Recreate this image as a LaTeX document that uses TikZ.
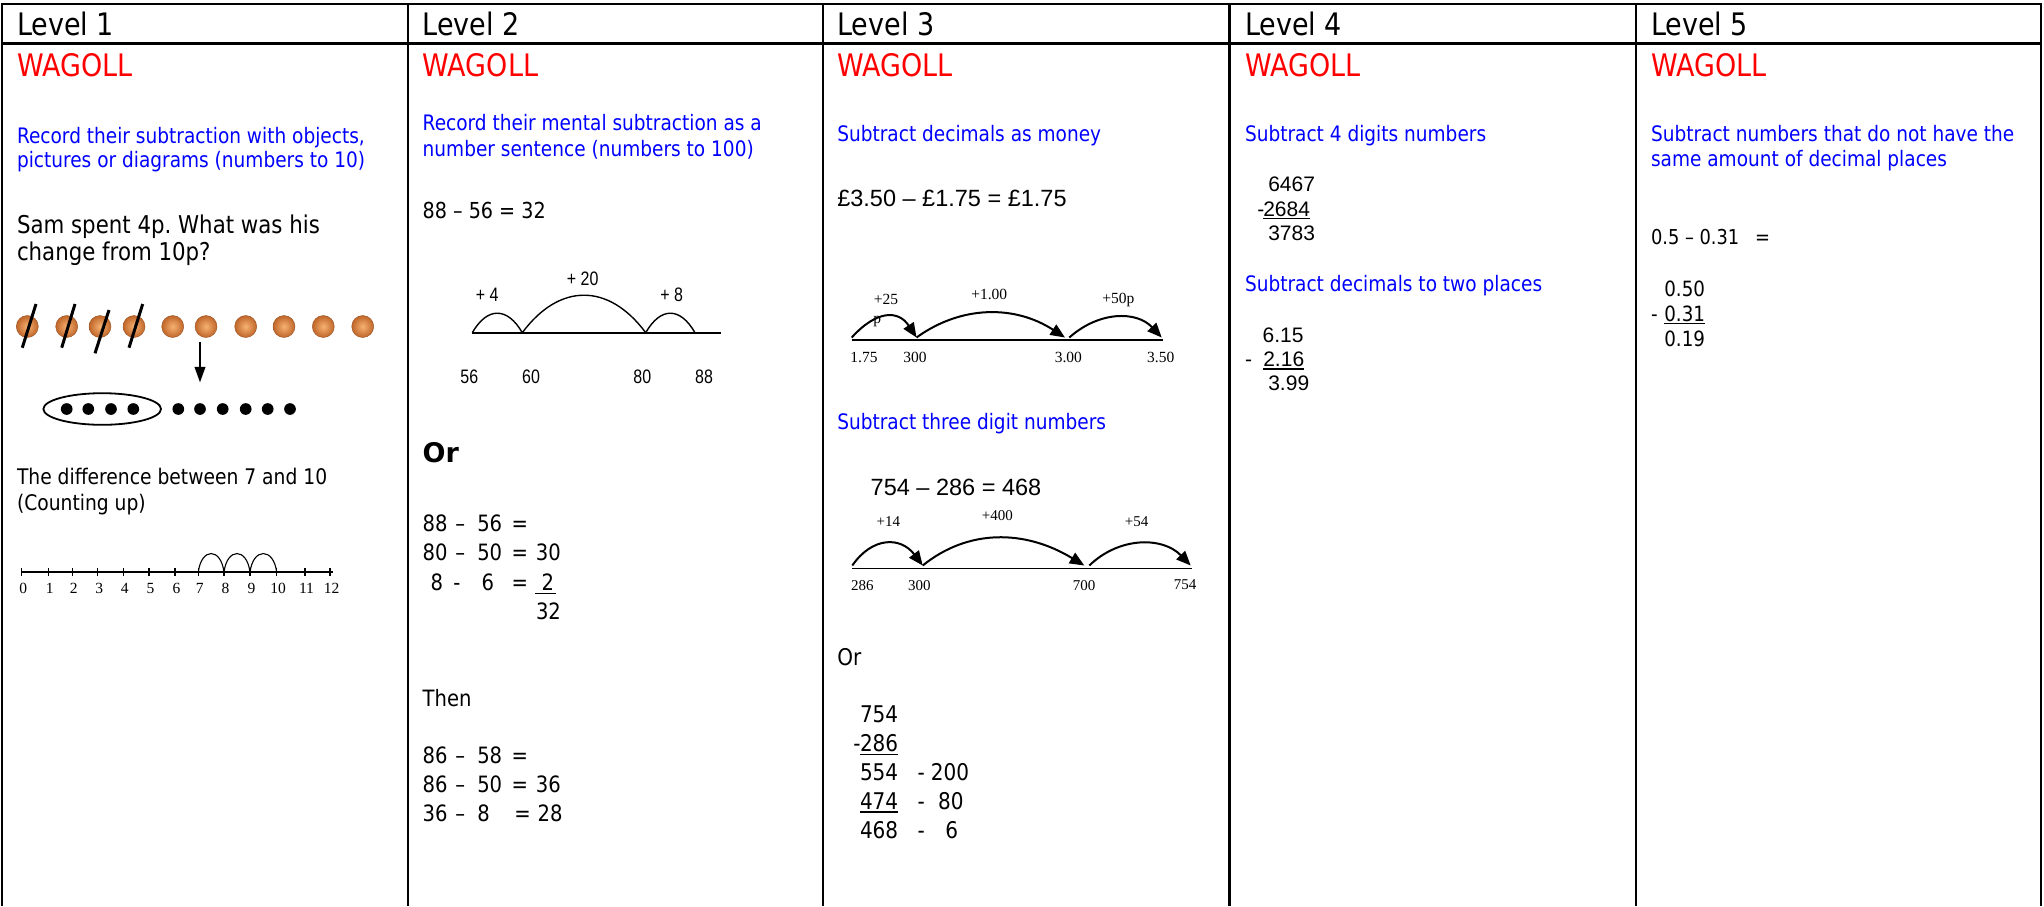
\documentclass[tikz,border=0pt]{standalone}
\usepackage{fontspec}
\setmainfont[FakeStretch=0.87]{DejaVu Sans}
\newfontfamily\plainsans{DejaVu Sans}
\newfontfamily\arialf{Liberation Sans}
\newfontfamily\narrowf[FakeStretch=0.82]{Liberation Sans}
\newfontfamily\timesf{Liberation Serif}
\usetikzlibrary{arrows.meta,shapes.geometric}
\definecolor{wagred}{HTML}{FF0000}
\definecolor{aimblue}{HTML}{0000FF}
\definecolor{copperlight}{HTML}{F6B272}
\definecolor{copperdark}{HTML}{C0662A}
\newcommand\setfs[1]{\fontsize{#1}{#1}\selectfont}
% one row of a partitioned subtraction, with fixed column widths
\newcommand\lrow[5]{\makebox[30.6pt][l]{#1}\makebox[24pt][l]{#2}\makebox[34.4pt][l]{#3}\makebox[24.3pt][l]{#4}#5}
\frenchspacing

\begin{document}
\begin{tikzpicture}[x=1pt,y=-1pt,
  txt/.style={anchor=base west,inner sep=0pt,outer sep=0pt},
  ctxt/.style={anchor=base,inner sep=0pt,outer sep=0pt},
  head/.style={txt,font=\setfs{31}},
  wag/.style={txt,font=\setfs{31},text=wagred},
  aim/.style={txt,font=\setfs{21.3},text=aimblue},
  body/.style={txt,font=\setfs{22.5}},
  arialtxt/.style={txt,font=\arialf\setfs{21}},
  serifnum/.style={ctxt,font=\timesf\setfs{15.5}},
  narrownum/.style={ctxt,font=\narrowf\setfs{19.5}},
  grid/.style={line width=2.2pt},
  uline/.style={line width=1.6pt},
  nline/.style={line width=1.6pt},
  hop/.style={line width=1.4pt},
  jump/.style={line width=2pt,-{Triangle[length=14.5pt,width=12pt]}},
  coin/.style={circle,minimum size=22pt,inner sep=0pt,inner color=copperlight,outer color=copperdark,draw=copperdark!80!black,line width=0.4pt},
  counter/.style={circle,fill=black,minimum size=11.7pt,inner sep=0pt},
  strike/.style={line width=3pt},
]
\useasboundingbox (0,0) rectangle (2044,906);

% table frame
\draw[grid] (1.6,906) -- (1.6,4.3) -- (2041,4.3) -- (2041,906);
\draw[grid] (1.6,43.5) -- (2041,43.5);
\foreach \x in {408,822.7,1229.5,1636.3} \draw[grid] (\x,4.3) -- (\x,906);

% ---------------- Level 1 ----------------
\node[head] (h1) at (17,35.7) {Level 1};
\node[wag] (w1) at (17,76) {WAGOLL};
\node[aim] (a1a) at (17,143.3) {Record their subtraction with objects,};
\node[aim] (a1b) at (17,167.7) {pictures or diagrams (numbers to 10)};
\node[txt,font=\setfs{24.5}] (q1a) at (17,233.3) {Sam spent 4p. What was his};
\node[txt,font=\setfs{24.5}] (q1b) at (17,260) {change from 10p?};

\foreach \i/\x in {1/27.3,2/66.7,3/100,4/134,5/172.7,6/206,7/245.7,8/284,9/323.3,10/362.7}
  \node[coin] (c\i) at (\x,326.5) {};
\draw[strike] (22.3,347.7) -- (36,304);
\draw[strike] (61.7,347.7) -- (75,304);
\draw[strike] (95,353.3) -- (109,310);
\draw[strike] (129,347.7) -- (142.7,304);

\foreach \i/\x in {1/66.7,2/88.3,3/111,4/133.3,5/178.3,6/200,7/222.7,8/245.7,9/267.7,10/290}
  \node[counter] (d\i) at (\x,409) {};
\node[ellipse,draw,line width=1.8pt,minimum width=117.6pt,minimum height=31.6pt,inner sep=0pt] (grp) at (102.2,409) {};
\draw[line width=2pt,-{Triangle[length=15.7pt,width=10.7pt]},shorten <=4.2pt,shorten >=20.5pt] (c6.south -| d6.north) -- (d6.north);

\node[txt,font=\setfs{21.5}] (df1) at (17,484) {The difference between 7 and 10};
\node[txt,font=\setfs{21.5}] (df2) at (17,510) {(Counting up)};

\draw[line width=2.2pt] (21,572.3) -- (333.3,572.3);
\foreach \n/\x in {0/21.7,1/48.3,2/72.3,3/97.7,4/123.3,5/149,6/175,7/198.3,8/224,9/250,10/276.7,11/305,12/330} {
  \coordinate (t\n) at (\x,572.3);
  \draw[line width=1.5pt] (\x,568.3) -- (\x,576.3);
  \node[serifnum] (tl\n) at (\x+1.5,593.3) {\n};
}
\draw[line width=1.1pt] (t7) .. controls +(3,-25) and +(-3,-25) .. (t8)
  .. controls +(3,-25) and +(-3,-25) .. (t9)
  .. controls +(3,-25) and +(-3,-25) .. (t10);

% ---------------- Level 2 ----------------
\node[head] (h2) at (422.7,35.7) {Level 2};
\node[wag] (w2) at (422.7,76) {WAGOLL};
\node[aim] (a2a) at (422.7,130) {Record their mental subtraction as a};
\node[aim] (a2b) at (422.7,156) {number sentence (numbers to 100)};
\node[txt,font=\setfs{22}] (e2) at (422.7,218.3) {88 – 56 = 32};

\coordinate (p56) at (472.3,332.7);
\coordinate (p60) at (522.3,332.7);
\coordinate (p80) at (645.7,332.7);
\coordinate (p88) at (695,332.7);
\coordinate (pend) at (720.7,332.7);
\draw[nline] (p56) -- (pend);
\draw[hop] (p56) .. controls +(15,-26) and +(-15,-26) .. (p60)
  .. controls +(37,-50) and +(-37,-50) .. (p80)
  .. controls +(15,-26) and +(-15,-26) .. (p88);
\node[narrownum] (j4) at (487.3,301.7) {+ 4};
\node[narrownum] (j20) at (582.7,285.7) {+ 20};
\node[narrownum] (j8) at (671.7,301) {+ 8};
\node[narrownum] (n56) at (469.3,383.3) {56};
\node[narrownum] (n60) at (531,383.3) {60};
\node[narrownum] (n80) at (642.3,383.3) {80};
\node[narrownum] (n88) at (704,383.3) {88};

\node[txt,font=\plainsans\bfseries\setfs{27}] (or2) at (422.7,462.7) {Or};
\node[body] (r2a) at (422.7,531.7) {\lrow{88}{\hspace*{2pt}–}{56}{=}{}};
\node[body] (r2b) at (422.7,560.7) {\lrow{80}{\hspace*{2pt}–}{50}{=}{30}};
\node[body] (r2c) at (422.7,590) {\lrow{\hspace*{8pt}8}{-}{\hspace*{4.4pt}6}{=}{\hspace*{5.7pt}2}};
\draw[uline] (535,593.5) -- (555.7,593.5);
\node[body] (r2d) at (536,619) {32};
\node[body] (then) at (422.7,706) {Then};
\node[body] (r2e) at (422.7,763.3) {\lrow{86}{\hspace*{2pt}–}{58}{=}{}};
\node[body] (r2f) at (422.7,792.3) {\lrow{86}{\hspace*{2pt}–}{50}{=}{36}};
\node[body] (r2g) at (422.7,821.7) {\lrow{36}{\hspace*{2pt}–}{8}{\hspace*{2.6pt}=}{\hspace*{1.7pt}28}};

% ---------------- Level 3 ----------------
\node[head] (h3) at (837.3,35.7) {Level 3};
\node[wag] (w3) at (837.3,76) {WAGOLL};
\node[aim] (a3a) at (837.3,141.7) {Subtract decimals as money};
\node[txt,font=\arialf\setfs{23.5}] (e3a) at (837.3,206.7) {£3.50 – £1.75 = £1.75};

\coordinate (ml) at (851.7,340);
\coordinate (mr) at (1163.3,340);
\coordinate (m1) at (851.7,337.5);
\coordinate (m2) at (916.5,337.5);
\coordinate (m3) at (1065,337.5);
\coordinate (m3b) at (1069.3,337.5);
\coordinate (m4) at (1161.7,337.5);
\draw[nline] (ml) -- (mr);
\draw[jump] (m1) .. controls +(25,-27.6) and +(-18,-27.6) .. (m2);
\draw[jump] (m2) .. controls +(45,-32.5) and +(-50,-32.5) .. (m3);
\draw[jump] (m3b) .. controls +(30,-26.7) and +(-25,-26.7) .. (m4);
\node[serifnum] (g25) at (886,304) {+25};
\node[serifnum] (g25p) at (877.3,323) {p};
\node[serifnum] (g100) at (989.3,299) {+1.00};
\node[serifnum] (g50) at (1118.3,303.3) {+50p};
\node[serifnum] (b175) at (864,362.3) {1.75};
\node[serifnum] (b300) at (915,362.3) {300};
\node[serifnum] (b3) at (1068.3,362.3) {3.00};
\node[serifnum] (b35) at (1160.7,362.3) {3.50};

\node[aim] (a3b) at (837.3,429.3) {Subtract three digit numbers};
\node[txt,font=\arialf\setfs{23.5}] (e3b) at (870.7,495) {754 – 286 = 468};

\coordinate (kl) at (852.3,568.3);
\coordinate (kr) at (1191.7,568.3);
\coordinate (k1) at (852.3,565.5);
\coordinate (k2) at (922.7,565.5);
\coordinate (k3) at (1084.3,565.5);
\coordinate (k3b) at (1089.3,565.5);
\coordinate (k4) at (1190.7,565.5);
\draw[nline] (kl) -- (kr);
\draw[jump] (k1) .. controls +(20,-29) and +(-22,-29) .. (k2);
\draw[jump] (k2) .. controls +(45,-36.4) and +(-60,-36.4) .. (k3);
\draw[jump] (k3b) .. controls +(30,-29) and +(-28,-29) .. (k4);
\node[serifnum,font=\timesf\setfs{15}] (s14) at (888.3,526.7) {+14};
\node[serifnum,font=\timesf\setfs{15}] (s400) at (997.3,520.7) {+400};
\node[serifnum,font=\timesf\setfs{15}] (s54) at (1136.7,526) {+54};
\node[serifnum,font=\timesf\setfs{15}] (u286) at (862.3,590.7) {286};
\node[serifnum,font=\timesf\setfs{15}] (u300) at (919.3,590.7) {300};
\node[serifnum,font=\timesf\setfs{15}] (u700) at (1084,590.7) {700};
\node[serifnum,font=\timesf\setfs{15}] (u754) at (1185,589.3) {754};

\node[txt,font=\setfs{23}] (or3) at (837.3,665) {Or};
\begin{scope}[every node/.append style={font=\setfs{23}}]
  \node[txt] (v1) at (860,722.7) {754};
  \node[txt] (v2m) at (853.3,751.7) {-};
  \node[txt] (v2) at (860,751.7) {286};
  \node[txt] (v3) at (860,780) {554};
  \node[txt] (v3m) at (917.7,780) {-};
  \node[ctxt] (v3r) at (950,780) {200};
  \node[txt] (v4) at (860,809.3) {474};
  \node[txt] (v4m) at (917.7,809.3) {-};
  \node[ctxt] (v4r) at (950.8,809.3) {80};
  \node[txt] (v5) at (860,838.3) {468};
  \node[txt] (v5m) at (917.7,838.3) {-};
  \node[ctxt] (v5r) at (951.7,838.3) {6};
\end{scope}
\draw[uline] ([yshift=-2.6pt]v2.base west) -- ([yshift=-2.6pt]v2.base east);
\draw[uline] ([yshift=-2.4pt]v4.base west) -- ([yshift=-2.4pt]v4.base east);

% ---------------- Level 4 ----------------
\node[head] (h4) at (1245,35.7) {Level 4};
\node[wag] (w4) at (1245,76) {WAGOLL};
\node[aim] (a4a) at (1245,141.7) {Subtract 4 digits numbers};
\node[arialtxt] (f1) at (1268.3,191) {6467};
\node[arialtxt] (f2m) at (1257.3,216) {-};
\node[arialtxt] (f2) at (1263.3,216) {2684};
\node[arialtxt] (f3) at (1268.3,240) {3783};
\draw[uline] ([yshift=-2.3pt]f2.base west) -- ([yshift=-2.3pt]f2.base east);
\node[aim] (a4b) at (1245,291.7) {Subtract decimals to two places};
\node[arialtxt] (g1) at (1262.7,342.3) {6.15};
\node[arialtxt] (g2m) at (1245,366.7) {-};
\node[arialtxt] (g2) at (1263.3,366.7) {2.16};
\node[arialtxt] (g3) at (1268.3,390.7) {3.99};
\draw[uline] ([yshift=-2pt]g2.base west) -- ([yshift=-2pt]g2.base east);

% ---------------- Level 5 ----------------
\node[head] (h5) at (1651,35.7) {Level 5};
\node[wag] (w5) at (1651,76) {WAGOLL};
\node[aim] (a5a) at (1651,141.7) {Subtract numbers that do not have the};
\node[aim] (a5b) at (1651,166.7) {same amount of decimal places};
\node[txt,font=\setfs{20.5}] (e5) at (1651,244.3) {0.5 – 0.31};
\node[txt,font=\setfs{20.5}] (e5eq) at (1755,244.3) {=};
\begin{scope}[every node/.append style={font=\setfs{21}}]
  \node[txt] (x1) at (1664.3,296) {0.50};
  \node[txt] (x2m) at (1651,321) {-};
  \node[txt] (x2) at (1664.3,321) {0.31};
  \node[txt] (x3) at (1664.3,346.7) {0.19};
\end{scope}
\draw[uline] ([yshift=-2.3pt]x2.base west) -- ([yshift=-2.3pt]x2.base east);
\end{tikzpicture}
\end{document}
